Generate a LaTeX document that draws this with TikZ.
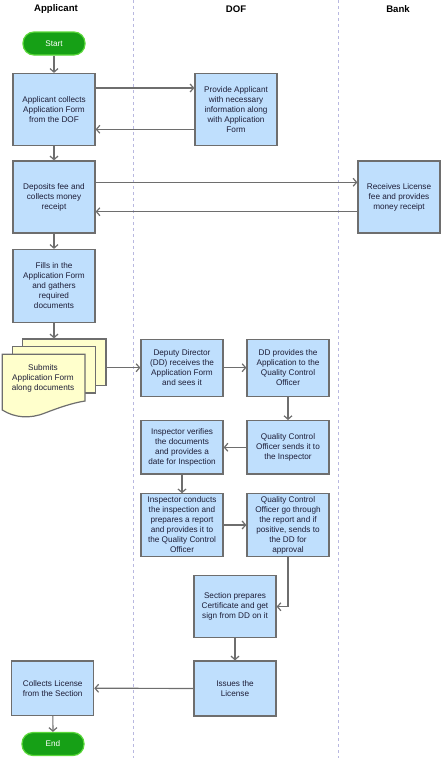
\documentclass[tikz,border=0pt]{standalone}
\usepackage{fontspec}
\setmainfont{Liberation Sans}
\usepackage{tikz}
\usetikzlibrary{arrows.meta}
\definecolor{taskfill}{HTML}{BFDFFD}
\definecolor{taskline}{HTML}{6E6E6E}
\definecolor{pagefill}{HTML}{FFFFCC}
\definecolor{termfill}{HTML}{16A016}
\definecolor{termline}{HTML}{5AD83A}
\definecolor{laneline}{HTML}{B8B8E0}
\definecolor{ink}{HTML}{1E1E38}
\tikzset{
  task/.style={draw=taskline,fill=taskfill,line width=1.2pt,minimum width=82pt,
    inner sep=0pt,align=center,text=ink,font=\fontsize{8.2}{10}\selectfont},
  terminal/.style={draw=termline,fill=termfill,line width=1.2pt,rounded corners=11pt,
    minimum width=62pt,minimum height=23pt,text=white,font=\fontsize{8.2}{10}\selectfont},
  page/.style={draw=taskline,fill=pagefill,line width=1.2pt},
  lanehead/.style={font=\fontsize{9.6}{11}\selectfont\bfseries,text=black},
  lane/.style={draw=laneline,dash pattern=on 3pt off 3pt,line width=0.8pt},
  flow/.style={draw=taskline,line width=1.2pt,-{Straight Barb[length=3.5pt,width=8pt]}},
}

\begin{document}
\begin{tikzpicture}[x=1pt,y=-1pt]
\useasboundingbox (0,0) rectangle (443,758);
% swim lanes
\draw[lane] (133,0) -- (133,758);
\draw[lane] (338,0) -- (338,758);
\node[lanehead] (applicant) at (56,9) {Applicant};
\node[lanehead] (dof) at (236,9) {DOF};
\node[lanehead] (bank) at (398,9) {Bank};

% applicant lane
\node[terminal] (start) at (54,43.5) {Start};
\node[task,minimum height=72pt] (collect) at (54,109.5) {Applicant collects\\Application Form\\from the DOF};
\node[task,minimum height=72pt] (deposit) at (54,197) {Deposits fee and\\collects money\\receipt};
\node[task,minimum height=73pt] (fillin) at (54,286) {Fills in the\\Application Form\\and gathers\\required\\documents};
\node[page,minimum width=83.3pt,minimum height=46.7pt] (submit) at (64.35,362.35) {};
\draw[page] (12.3,346.7) rectangle (95.7,393);
\draw[page] (2.3,354.3) -- (85,354.3) -- (85,401)
  .. controls (72,403) and (58,408) .. (45,413)
  .. controls (30,419) and (15,418) .. (2.3,410) -- cycle;
\node[text=ink,align=center,font=\fontsize{8.2}{10}\selectfont] (submittext) at (43,378) {Submits\\Application Form\\along documents};
\node[task,minimum height=54.3pt] (license) at (52.7,688.2) {Collects License\\from the Section};
\node[terminal] (end) at (53,744) {End};

% DOF lane
\node[task,minimum height=72pt] (provide) at (236,109.5) {Provide Applicant\\with necessary\\information along\\with Application\\Form};
\node[task,minimum height=57pt] (dd) at (182,367.7) {Deputy Director\\(DD) receives the\\Application Form\\and sees it};
\node[task,minimum height=57pt] (ddqco) at (288,367.7) {DD provides the\\Application to the\\Quality Control\\Officer};
\node[task,minimum height=53.3pt] (qco) at (288,447.3) {Quality Control\\Officer sends it to\\the Inspector};
\node[task,minimum height=53.3pt] (verify) at (182,447.3) {Inspector verifies\\the documents\\and provides a\\date for Inspection};
\node[task,minimum height=62.3pt] (conduct) at (182,525) {Inspector conducts\\the inspection and\\prepares a report\\and provides it to\\the Quality Control\\Officer};
\node[task,minimum height=62.3pt] (approve) at (288,525) {Quality Control\\Officer go through\\the report and if\\positive, sends to\\the DD for\\approval};
\node[task,minimum height=62pt] (section) at (235,606.7) {Section prepares\\Certificate and get\\sign from DD on it};
\node[task,minimum height=55pt] (issue) at (235,688.5) {Issues the\\License};

% bank lane
\node[task,minimum height=72pt] (receive) at (399,197) {Receives License\\fee and provides\\money receipt};

% connectors
\draw[flow] (start) -- (collect);
\draw[flow] ([yshift=21.5pt]collect.east) -- ([yshift=21.5pt]provide.west);
\draw[flow] ([yshift=-19.8pt]provide.west) -- ([yshift=-19.8pt]collect.east);
\draw[flow] (collect) -- (deposit);
\draw[flow] ([yshift=14.7pt]deposit.east) -- ([yshift=14.7pt]receive.west);
\draw[flow] ([yshift=-14.7pt]receive.west) -- ([yshift=-14.7pt]deposit.east);
\draw[flow] (deposit) -- (fillin);
\draw[flow] (fillin.south) -- (fillin.south |- submit.north);
\draw[flow] (submit.east |- dd.west) -- (dd.west);
\draw[flow] (dd) -- (ddqco);
\draw[flow] (ddqco) -- (qco);
\draw[flow] (qco) -- (verify);
\draw[flow] (verify) -- (conduct);
\draw[flow] (conduct) -- (approve);
\draw[flow] (approve.south) |- (section.east);
\draw[flow] (section) -- (issue);
\draw[flow] (issue) -- (license);
\draw[flow] (license) -- (end);
\end{tikzpicture}
\end{document}
